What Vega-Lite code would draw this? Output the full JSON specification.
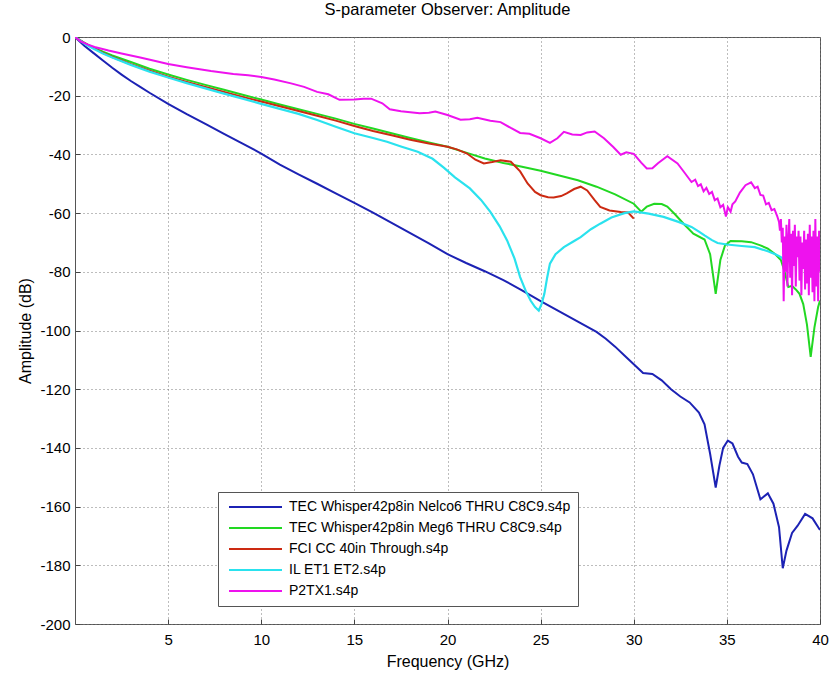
{
  "$schema": "https://vega.github.io/schema/vega-lite/v6.json",
  "width": 745,
  "height": 587,
  "autosize": {"type": "none"},
  "padding": {"left": 75, "top": 37, "right": 11, "bottom": 49},
  "background": "white",
  "title": {"text": "S-parameter Observer: Amplitude", "fontSize": 16.5, "fontWeight": "normal", "font": "Liberation Sans", "color": "black", "offset": 12, "anchor": "middle"},
  "datasets": {
    "nelco6": [
      {"freq":0,"amp":0},{"freq":0.5,"amp":-3},{"freq":1,"amp":-5.5},{"freq":1.5,"amp":-8},{"freq":2,"amp":-10.5},{"freq":2.5,"amp":-12.8},{"freq":3,"amp":-15},{"freq":3.5,"amp":-17},{"freq":4,"amp":-19},{"freq":5,"amp":-22.8},{"freq":6,"amp":-26.3},{"freq":7,"amp":-29.6},{"freq":8,"amp":-33},{"freq":9,"amp":-36.3},{"freq":10,"amp":-39.7},{"freq":11,"amp":-43.5},{"freq":12,"amp":-46.8},{"freq":13,"amp":-50},{"freq":14,"amp":-53.3},{"freq":15,"amp":-56.5},{"freq":16,"amp":-59.8},{"freq":17,"amp":-63.3},{"freq":18,"amp":-66.8},{"freq":19,"amp":-70.3},{"freq":20,"amp":-74},{"freq":21,"amp":-77},{"freq":22,"amp":-79.8},{"freq":23,"amp":-82.8},{"freq":24,"amp":-86.3},{"freq":25,"amp":-90},{"freq":26,"amp":-93.5},{"freq":27,"amp":-97},{"freq":28,"amp":-100.5},{"freq":28.5,"amp":-102.8},{"freq":29,"amp":-105.5},{"freq":29.5,"amp":-108.5},{"freq":30,"amp":-111.5},{"freq":30.5,"amp":-114.5},{"freq":31,"amp":-114.8},{"freq":31.5,"amp":-117},{"freq":32,"amp":-120},{"freq":32.5,"amp":-122.5},{"freq":33,"amp":-124.5},{"freq":33.5,"amp":-128},{"freq":33.8,"amp":-132},{"freq":34.1,"amp":-142},{"freq":34.4,"amp":-153.5},{"freq":34.6,"amp":-146},{"freq":34.8,"amp":-140},{"freq":35.05,"amp":-137.5},{"freq":35.3,"amp":-138.5},{"freq":35.6,"amp":-143},{"freq":35.8,"amp":-145},{"freq":36.1,"amp":-145.5},{"freq":36.4,"amp":-149},{"freq":36.8,"amp":-157.5},{"freq":37.2,"amp":-155.5},{"freq":37.5,"amp":-159},{"freq":37.8,"amp":-167},{"freq":38,"amp":-181},{"freq":38.2,"amp":-175},{"freq":38.5,"amp":-169},{"freq":38.8,"amp":-166.5},{"freq":39.2,"amp":-162.5},{"freq":39.6,"amp":-164},{"freq":40,"amp":-168}
    ],
    "meg6": [
      {"freq":0,"amp":0},{"freq":0.5,"amp":-2},{"freq":1,"amp":-3.6},{"freq":1.5,"amp":-5},{"freq":2,"amp":-6.3},{"freq":3,"amp":-8.5},{"freq":4,"amp":-10.8},{"freq":5,"amp":-12.8},{"freq":6,"amp":-14.6},{"freq":7,"amp":-16.3},{"freq":8,"amp":-18},{"freq":9,"amp":-19.7},{"freq":10,"amp":-21.3},{"freq":11,"amp":-23},{"freq":12,"amp":-24.6},{"freq":13,"amp":-26.2},{"freq":14,"amp":-27.8},{"freq":15,"amp":-29.6},{"freq":16,"amp":-31.2},{"freq":17,"amp":-32.8},{"freq":18,"amp":-34.4},{"freq":19,"amp":-35.9},{"freq":20,"amp":-37.4},{"freq":21,"amp":-39.4},{"freq":22,"amp":-41.4},{"freq":23,"amp":-42.9},{"freq":24,"amp":-44.2},{"freq":25,"amp":-45.6},{"freq":26,"amp":-47.2},{"freq":27,"amp":-48.8},{"freq":28,"amp":-51},{"freq":29,"amp":-53.6},{"freq":30,"amp":-56.8},{"freq":30.4,"amp":-59.5},{"freq":30.7,"amp":-57.8},{"freq":31.1,"amp":-56.8},{"freq":31.5,"amp":-56.9},{"freq":31.8,"amp":-57.8},{"freq":32.2,"amp":-60.3},{"freq":32.7,"amp":-63.8},{"freq":33.2,"amp":-67},{"freq":33.8,"amp":-69},{"freq":34.1,"amp":-74},{"freq":34.4,"amp":-87.5},{"freq":34.65,"amp":-76},{"freq":34.9,"amp":-71},{"freq":35.2,"amp":-69.5},{"freq":35.8,"amp":-69.6},{"freq":36.3,"amp":-69.9},{"freq":36.8,"amp":-71},{"freq":37.2,"amp":-72.1},{"freq":37.6,"amp":-74},{"freq":37.9,"amp":-76},{"freq":38.1,"amp":-80},{"freq":38.3,"amp":-85.2},{"freq":38.5,"amp":-84.8},{"freq":38.7,"amp":-86},{"freq":38.9,"amp":-87.5},{"freq":39.1,"amp":-91},{"freq":39.3,"amp":-98},{"freq":39.5,"amp":-109},{"freq":39.7,"amp":-99},{"freq":39.9,"amp":-92},{"freq":40,"amp":-89.8}
    ],
    "fci": [
      {"freq":0,"amp":0},{"freq":0.5,"amp":-2},{"freq":1,"amp":-3.8},{"freq":1.5,"amp":-5.4},{"freq":2,"amp":-6.8},{"freq":3,"amp":-9.3},{"freq":4,"amp":-11.5},{"freq":5,"amp":-13.5},{"freq":6,"amp":-15.3},{"freq":7,"amp":-17},{"freq":8,"amp":-18.7},{"freq":9,"amp":-20.4},{"freq":10,"amp":-22},{"freq":11,"amp":-23.6},{"freq":12,"amp":-25.2},{"freq":13,"amp":-26.8},{"freq":14,"amp":-28.5},{"freq":15,"amp":-30.3},{"freq":16,"amp":-32},{"freq":17,"amp":-33.5},{"freq":18,"amp":-35},{"freq":19,"amp":-36.3},{"freq":20,"amp":-37.4},{"freq":20.5,"amp":-38.3},{"freq":21.05,"amp":-39.7},{"freq":21.5,"amp":-41.8},{"freq":21.95,"amp":-43.1},{"freq":22.4,"amp":-42.6},{"freq":22.85,"amp":-42},{"freq":23.4,"amp":-42.5},{"freq":23.9,"amp":-45.8},{"freq":24.3,"amp":-49.9},{"freq":24.7,"amp":-52.8},{"freq":25,"amp":-53.9},{"freq":25.4,"amp":-54.6},{"freq":25.7,"amp":-54.7},{"freq":26.1,"amp":-54.2},{"freq":26.4,"amp":-53.3},{"freq":26.8,"amp":-51.8},{"freq":27.15,"amp":-51},{"freq":27.5,"amp":-52.3},{"freq":27.9,"amp":-55.6},{"freq":28.2,"amp":-57.9},{"freq":28.7,"amp":-59.1},{"freq":29.3,"amp":-59.6},{"freq":29.7,"amp":-59.8},{"freq":30,"amp":-61.9}
    ],
    "il": [
      {"freq":0,"amp":0},{"freq":0.5,"amp":-2.2},{"freq":1,"amp":-4},{"freq":1.5,"amp":-5.6},{"freq":2,"amp":-7},{"freq":3,"amp":-9.5},{"freq":4,"amp":-11.8},{"freq":5,"amp":-13.8},{"freq":6,"amp":-15.7},{"freq":7,"amp":-17.5},{"freq":8,"amp":-19.3},{"freq":9,"amp":-21},{"freq":10,"amp":-22.8},{"freq":11,"amp":-24.5},{"freq":12,"amp":-26.2},{"freq":13,"amp":-28.3},{"freq":14,"amp":-30.6},{"freq":15,"amp":-32.8},{"freq":16,"amp":-34.4},{"freq":16.75,"amp":-35.7},{"freq":17.5,"amp":-37.3},{"freq":18.4,"amp":-39.1},{"freq":19.2,"amp":-41.5},{"freq":19.8,"amp":-44.5},{"freq":20.4,"amp":-47.8},{"freq":21.2,"amp":-51.6},{"freq":21.8,"amp":-55.5},{"freq":22.3,"amp":-59.6},{"freq":22.8,"amp":-64.5},{"freq":23.2,"amp":-69.3},{"freq":23.6,"amp":-75.5},{"freq":23.9,"amp":-81.8},{"freq":24.2,"amp":-86.5},{"freq":24.46,"amp":-89.8},{"freq":24.7,"amp":-92},{"freq":24.9,"amp":-93.2},{"freq":25.05,"amp":-91},{"freq":25.2,"amp":-87.5},{"freq":25.35,"amp":-82},{"freq":25.5,"amp":-77.2},{"freq":25.8,"amp":-74},{"freq":26.25,"amp":-71.6},{"freq":26.8,"amp":-69.5},{"freq":27.15,"amp":-68.2},{"freq":27.7,"amp":-65.5},{"freq":28.2,"amp":-63.6},{"freq":28.8,"amp":-61.5},{"freq":29.5,"amp":-60},{"freq":30,"amp":-59.4},{"freq":30.8,"amp":-60.2},{"freq":31.6,"amp":-61.3},{"freq":32.4,"amp":-63},{"freq":33.1,"amp":-64.7},{"freq":33.5,"amp":-66.3},{"freq":33.8,"amp":-67.6},{"freq":34.2,"amp":-69.2},{"freq":34.5,"amp":-70.2},{"freq":35,"amp":-70.7},{"freq":35.8,"amp":-71.2},{"freq":36.5,"amp":-71.6},{"freq":37.2,"amp":-73},{"freq":37.6,"amp":-74},{"freq":37.9,"amp":-75},{"freq":38.1,"amp":-76}
    ],
    "p2tx1": [
      {"freq":0,"amp":0},{"freq":0.3,"amp":-1.5},{"freq":0.7,"amp":-2.6},{"freq":1.05,"amp":-3.4},{"freq":1.8,"amp":-4.6},{"freq":2.5,"amp":-5.6},{"freq":3.5,"amp":-7},{"freq":4.2,"amp":-8},{"freq":5,"amp":-9.2},{"freq":6,"amp":-10.3},{"freq":7.3,"amp":-11.6},{"freq":8.5,"amp":-12.6},{"freq":9.3,"amp":-13},{"freq":10,"amp":-13.6},{"freq":10.7,"amp":-14.5},{"freq":11.6,"amp":-15.8},{"freq":12.3,"amp":-17},{"freq":13,"amp":-18.7},{"freq":13.6,"amp":-19.5},{"freq":14.2,"amp":-21.4},{"freq":15,"amp":-21.3},{"freq":15.5,"amp":-21},{"freq":15.9,"amp":-21},{"freq":16.5,"amp":-22.6},{"freq":16.9,"amp":-24.6},{"freq":17.5,"amp":-25.3},{"freq":18.5,"amp":-26},{"freq":19,"amp":-25.8},{"freq":19.35,"amp":-25.4},{"freq":20,"amp":-26.6},{"freq":20.7,"amp":-28.2},{"freq":21.2,"amp":-28},{"freq":21.6,"amp":-27.5},{"freq":22.3,"amp":-28.5},{"freq":22.85,"amp":-29},{"freq":23.4,"amp":-31},{"freq":23.9,"amp":-32.7},{"freq":24.4,"amp":-33},{"freq":25,"amp":-34.5},{"freq":25.5,"amp":-36.1},{"freq":25.9,"amp":-34.5},{"freq":26.25,"amp":-32.3},{"freq":26.7,"amp":-33.2},{"freq":27.15,"amp":-33.4},{"freq":27.5,"amp":-32.5},{"freq":27.9,"amp":-32.2},{"freq":28.4,"amp":-34.5},{"freq":28.9,"amp":-37.5},{"freq":29.3,"amp":-40.1},{"freq":29.6,"amp":-39.3},{"freq":30,"amp":-39.8},{"freq":30.4,"amp":-42.8},{"freq":30.7,"amp":-44.8},{"freq":31,"amp":-44.7},{"freq":31.3,"amp":-43},{"freq":31.8,"amp":-40.6},{"freq":32.35,"amp":-43.1},{"freq":32.7,"amp":-46},{"freq":33.1,"amp":-49.4},{"freq":33.3,"amp":-48.6},{"freq":33.45,"amp":-50.8},{"freq":33.6,"amp":-50.2},{"freq":33.75,"amp":-52.6},{"freq":33.9,"amp":-51.4},{"freq":34.05,"amp":-53.5},{"freq":34.2,"amp":-52.8},{"freq":34.35,"amp":-55.6},{"freq":34.5,"amp":-55},{"freq":34.65,"amp":-58},{"freq":34.8,"amp":-57.2},{"freq":34.95,"amp":-61.2},{"freq":35.05,"amp":-58},{"freq":35.2,"amp":-59.5},{"freq":35.3,"amp":-57},{"freq":35.45,"amp":-56},{"freq":35.7,"amp":-53},{"freq":36,"amp":-50.5},{"freq":36.3,"amp":-49.5},{"freq":36.5,"amp":-51.5},{"freq":36.65,"amp":-51},{"freq":36.8,"amp":-53.8},{"freq":36.95,"amp":-54},{"freq":37.1,"amp":-57},{"freq":37.25,"amp":-56.5},{"freq":37.4,"amp":-59},{"freq":37.55,"amp":-58.6},{"freq":37.7,"amp":-61},{"freq":37.8,"amp":-63},{"freq":37.85,"amp":-66},{"freq":37.9,"amp":-62},{"freq":37.95,"amp":-70},{"freq":38,"amp":-65},{"freq":38.05,"amp":-90},{"freq":38.1,"amp":-68},{"freq":38.15,"amp":-80},{"freq":38.2,"amp":-64},{"freq":38.25,"amp":-85},{"freq":38.3,"amp":-70},{"freq":38.35,"amp":-62},{"freq":38.4,"amp":-82},{"freq":38.45,"amp":-67},{"freq":38.5,"amp":-88},{"freq":38.55,"amp":-66},{"freq":38.6,"amp":-78},{"freq":38.65,"amp":-64},{"freq":38.7,"amp":-85},{"freq":38.75,"amp":-68},{"freq":38.8,"amp":-75},{"freq":38.85,"amp":-66},{"freq":38.9,"amp":-83},{"freq":38.95,"amp":-68},{"freq":39,"amp":-88},{"freq":39.05,"amp":-70},{"freq":39.1,"amp":-79},{"freq":39.15,"amp":-66},{"freq":39.2,"amp":-86},{"freq":39.25,"amp":-69},{"freq":39.3,"amp":-84},{"freq":39.35,"amp":-67},{"freq":39.4,"amp":-88},{"freq":39.45,"amp":-64},{"freq":39.5,"amp":-82},{"freq":39.55,"amp":-68},{"freq":39.6,"amp":-87},{"freq":39.65,"amp":-66},{"freq":39.7,"amp":-90},{"freq":39.75,"amp":-62},{"freq":39.8,"amp":-85},{"freq":39.85,"amp":-68},{"freq":39.9,"amp":-90},{"freq":39.95,"amp":-66},{"freq":40,"amp":-80}
    ]
  },
  "encoding": {
    "x": {"field": "freq", "type": "quantitative", "scale": {"domain": [0, 40], "nice": false, "zero": false},
      "axis": {"title": "Frequency (GHz)", "values": [5, 10, 15, 20, 25, 30, 35, 40], "labelExpr": "'' + datum.value", "labelPadding": 13, "titlePadding": 6}},
    "y": {"field": "amp", "type": "quantitative", "scale": {"domain": [-200, 0], "nice": false},
      "axis": {"title": "Amplitude (dB)", "values": [-200, -180, -160, -140, -120, -100, -80, -60, -40, -20, 0], "labelExpr": "'' + datum.value", "labelPadding": 10, "titlePadding": 6}},
    "color": {"type": "nominal",
      "scale": {"domain": ["TEC Whisper42p8in Nelco6 THRU C8C9.s4p", "TEC Whisper42p8in Meg6 THRU C8C9.s4p", "FCI CC 40in Through.s4p", "IL ET1 ET2.s4p", "P2TX1.s4p"],
        "range": ["#1c22b4", "#22d822", "#cc2a12", "#2ae2ee", "#ee12ee"]},
      "legend": {"title": null}}
  },
  "layer": [
    {"data": {"name": "nelco6"}, "mark": {"type": "line", "strokeWidth": 2, "clip": true}, "encoding": {"color": {"datum": "TEC Whisper42p8in Nelco6 THRU C8C9.s4p"}}},
    {"data": {"name": "meg6"}, "mark": {"type": "line", "strokeWidth": 2, "clip": true}, "encoding": {"color": {"datum": "TEC Whisper42p8in Meg6 THRU C8C9.s4p"}}},
    {"data": {"name": "fci"}, "mark": {"type": "line", "strokeWidth": 2, "clip": true}, "encoding": {"color": {"datum": "FCI CC 40in Through.s4p"}}},
    {"data": {"name": "il"}, "mark": {"type": "line", "strokeWidth": 2.2, "clip": true}, "encoding": {"color": {"datum": "IL ET1 ET2.s4p"}}},
    {"data": {"name": "p2tx1"}, "mark": {"type": "line", "strokeWidth": 2, "clip": true}, "encoding": {"color": {"datum": "P2TX1.s4p"}}}
  ],
  "config": {
    "font": "Liberation Sans",
    "view": {"stroke": "#555555", "strokeWidth": 1},
    "axis": {
      "labelFont": "Liberation Sans", "titleFont": "Liberation Sans",
      "labelFontSize": 15, "titleFontSize": 16, "titleFontWeight": "normal",
      "labelColor": "black", "titleColor": "black",
      "domain": false, "grid": true, "gridDash": [1, 3], "gridColor": "#7a7a7a", "gridOpacity": 1,
      "tickSize": -5, "tickColor": "#444444", "labelFlush": false, "labelOverlap": false
    },
    "legend": {
      "orient": "none", "legendX": 143, "legendY": 455,
      "symbolType": "stroke", "symbolSize": 2809, "symbolStrokeWidth": 2, "clipHeight": 16, "rowPadding": 5,
      "labelFont": "Liberation Sans", "labelFontSize": 14, "labelColor": "black", "labelOffset": 6, "labelLimit": 400,
      "padding": 7, "symbolOffset": 3, "strokeColor": "#555555", "fillColor": "white", "cornerRadius": 0
    }
  }
}
